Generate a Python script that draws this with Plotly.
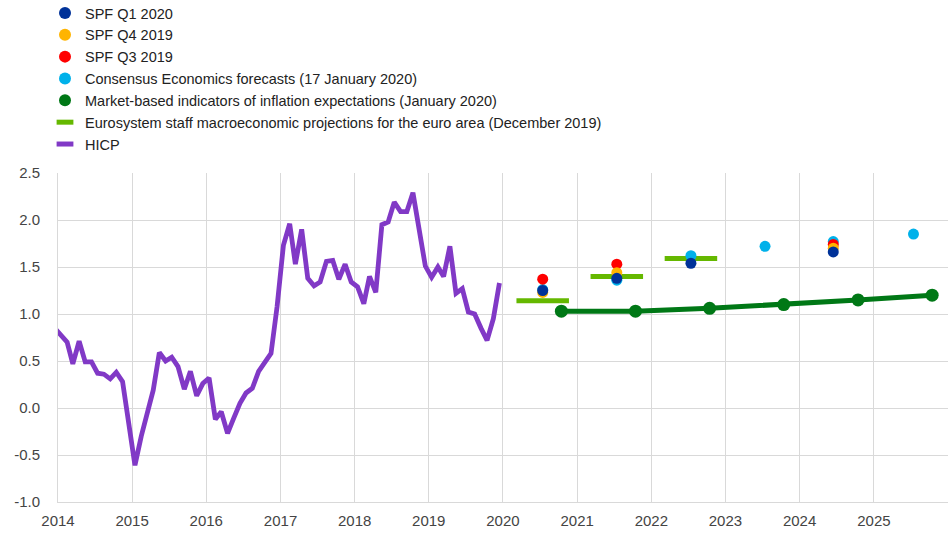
import pandas as pd
import plotly.graph_objects as go

# ---------------- data ----------------
hicp = [0.85,
        0.78, 0.70, 0.47, 0.71, 0.49, 0.49, 0.37, 0.36, 0.31, 0.38, 0.28, -0.18,
        -0.61, -0.30, -0.07, 0.19, 0.59, 0.50, 0.54, 0.44, 0.20, 0.39, 0.13, 0.26,
        0.32, -0.12, -0.04, -0.27, -0.11, 0.05, 0.16, 0.21, 0.39, 0.49, 0.58, 1.08,
        1.73, 1.96, 1.53, 1.90, 1.38, 1.30, 1.34, 1.56, 1.57, 1.37, 1.53, 1.34,
        1.29, 1.11, 1.40, 1.23, 1.95, 1.98, 2.19, 2.09, 2.09, 2.29, 1.89, 1.51,
        1.39, 1.50, 1.40, 1.72, 1.22, 1.27, 1.02, 1.00, 0.85, 0.72, 0.95, 1.33]
hicp_dates = pd.date_range("2013-12-01", periods=len(hicp), freq="MS") + pd.Timedelta(days=14)

spf_q1_2020_dates = ["2020-07-15", "2021-07-15", "2022-07-15", "2024-06-15"]
spf_q1_2020 = [1.25, 1.38, 1.54, 1.66]

spf_q4_2019_dates = ["2020-07-15", "2021-07-15", "2024-06-15"]
spf_q4_2019 = [1.23, 1.44, 1.70]

spf_q3_2019_dates = ["2020-07-15", "2021-07-15", "2024-06-15"]
spf_q3_2019 = [1.37, 1.53, 1.74]

consensus_dates = ["2020-07-15", "2021-07-15", "2022-07-15", "2023-07-15", "2024-06-15", "2025-07-15"]
consensus = [1.26, 1.36, 1.62, 1.72, 1.77, 1.85]

market_dates = ["2020-10-15", "2021-10-15", "2022-10-15", "2023-10-15", "2024-10-15", "2025-10-15"]
market = [1.03, 1.03, 1.06, 1.10, 1.15, 1.20]

eurosystem_dates = ["2020-07-15", "2021-07-15", "2022-07-15"]
eurosystem = [1.14, 1.40, 1.59]

y_ticks = [-1.0, -0.5, 0.0, 0.5, 1.0, 1.5, 2.0, 2.5]
x_tick_years = [str(y) for y in range(2014, 2026)]

# ---------------- styles ----------------
C_BLUE = "#003299"
C_YELLOW = "#FFB400"
C_RED = "#FF0000"
C_CYAN = "#00B1EA"
C_DGREEN = "#007816"
C_LGREEN = "#65B800"
C_PURPLE = "#8139C6"
FONT = "Liberation Sans, Arial, sans-serif"

fig = go.Figure()

# plotted traces (drawing order), legend hidden
fig.add_trace(go.Scatter(x=hicp_dates, y=hicp, mode="lines",
                         line=dict(color=C_PURPLE, width=4.8), showlegend=False))
fig.add_trace(go.Scatter(x=eurosystem_dates, y=eurosystem, mode="markers",
                         marker=dict(symbol="line-ew", size=37.5,
                                     line=dict(color=C_LGREEN, width=5)),
                         showlegend=False))
fig.add_trace(go.Scatter(x=market_dates, y=market, mode="lines+markers",
                         line=dict(color=C_DGREEN, width=5),
                         marker=dict(color=C_DGREEN, size=13), showlegend=False))
fig.add_trace(go.Scatter(x=consensus_dates, y=consensus, mode="markers",
                         marker=dict(color=C_CYAN, size=11), showlegend=False))
fig.add_trace(go.Scatter(x=spf_q3_2019_dates, y=spf_q3_2019, mode="markers",
                         marker=dict(color=C_RED, size=11), showlegend=False))
fig.add_trace(go.Scatter(x=spf_q4_2019_dates, y=spf_q4_2019, mode="markers",
                         marker=dict(color=C_YELLOW, size=11), showlegend=False))
fig.add_trace(go.Scatter(x=spf_q1_2020_dates, y=spf_q1_2020, mode="markers",
                         marker=dict(color=C_BLUE, size=11), showlegend=False))

# legend entries
legend_items = [
    ("SPF Q1 2020", "circle", C_BLUE),
    ("SPF Q4 2019", "circle", C_YELLOW),
    ("SPF Q3 2019", "circle", C_RED),
    ("Consensus Economics forecasts (17 January 2020)", "circle", C_CYAN),
    ("Market-based indicators of inflation expectations (January 2020)", "circle", C_DGREEN),
    ("Eurosystem staff macroeconomic projections for the euro area (December 2019)", "line-ew", C_LGREEN),
    ("HICP", "line-ew", C_PURPLE),
]
for name, sym, col in legend_items:
    if sym == "circle":
        mk = dict(symbol="circle", size=12, color=col)
    else:
        mk = dict(symbol="line-ew", size=12, line=dict(color=col, width=5))
    fig.add_trace(go.Scatter(x=[None], y=[None], mode="markers", name=name,
                             marker=mk, showlegend=True))

fig.update_layout(
    width=949, height=533,
    margin=dict(l=58, r=1, t=173, b=31, autoexpand=False),
    paper_bgcolor="white", plot_bgcolor="white",
    font=dict(family=FONT, size=14, color="#333333"),
    showlegend=True,
    legend=dict(xref="container", yref="paper", x=45 / 949, y=1 + 176 / 329,
                xanchor="left", yanchor="top", bgcolor="rgba(0,0,0,0)",
                font=dict(family=FONT, size=14.5, color="#222222"),
                itemsizing="trace", tracegroupgap=0),
    xaxis=dict(type="date", range=["2014-01-01", "2026-01-01"],
               tickvals=[f"{y}-01-01" for y in x_tick_years], ticktext=x_tick_years,
               showgrid=True, gridcolor="#d9d9d9", gridwidth=1,
               showline=True, linecolor="#d9d9d9", linewidth=1,
               ticks="", zeroline=False, ticklabelstandoff=5,
               tickfont=dict(family=FONT, size=15, color="#444444")),
    yaxis=dict(range=[-1.0, 2.5], tickvals=y_ticks,
               ticktext=[f"{v:.1f}" for v in y_ticks],
               showgrid=True, gridcolor="#d9d9d9", gridwidth=1,
               showline=True, linecolor="#d9d9d9", linewidth=1,
               ticks="", zeroline=False, ticklabelstandoff=14,
               tickfont=dict(family=FONT, size=15, color="#444444")),
)

fig.write_html("out.html", config={"displayModeBar": False},
               post_script="document.body.style.margin='0';document.body.style.overflow='hidden';")
